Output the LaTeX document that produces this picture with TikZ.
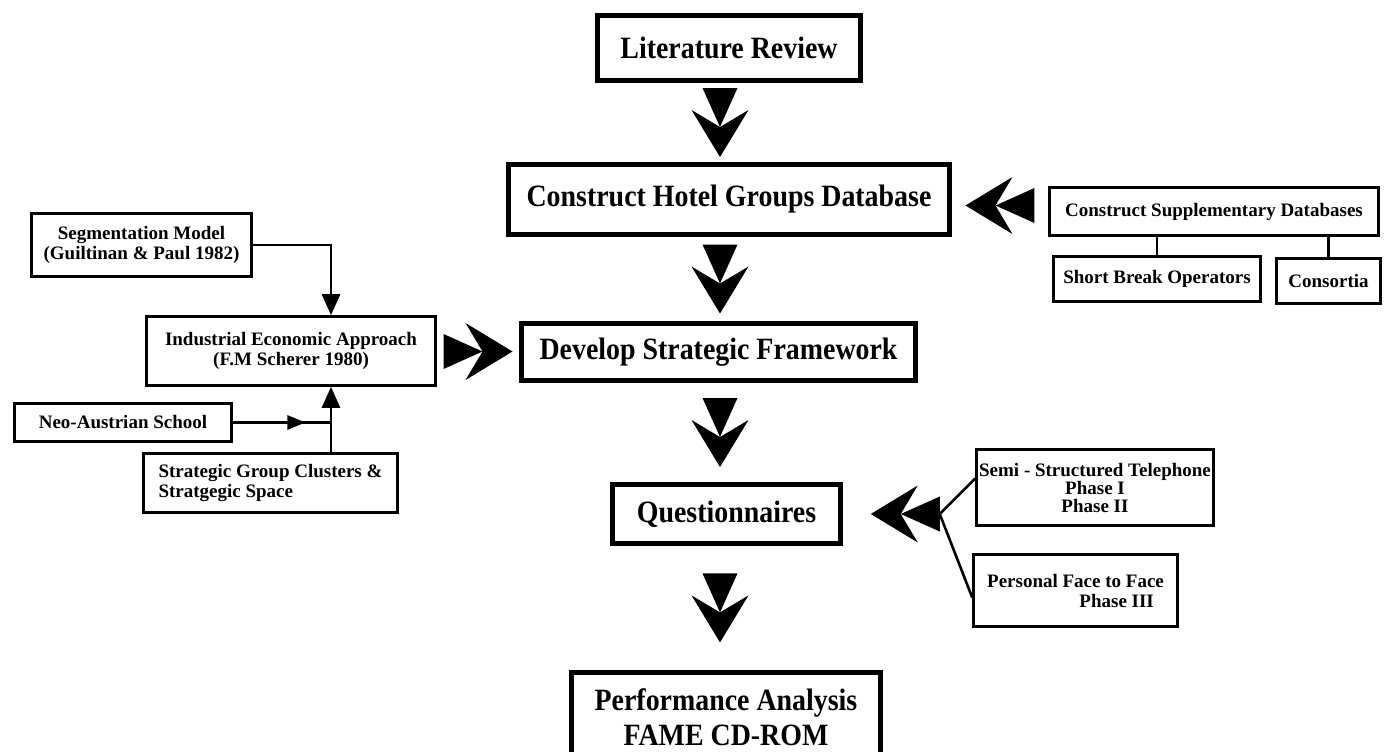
\documentclass[tikz,border=0pt]{standalone}
\usepackage{fontspec}
\setmainfont{Liberation Serif}
\newfontfamily\bigfont[FakeStretch=0.9]{Liberation Serif}
\usetikzlibrary{arrows.meta,calc,decorations.markings}

\newcommand\bigtxt{\bigfont\bfseries\fontsize{31}{35}\selectfont}
\newcommand\smalltxt{\bfseries\fontsize{19}{20}\selectfont}

% heavy double-headed flow arrow, pointing along +x, centred on its origin
\tikzset{
  dblarrow/.pic={
    \fill (34.5,0) -- (-12.5,28.5) -- (4.5,0) -- (-12.5,-28.5) -- cycle;
    \fill (-34.5,17.5) -- (4.5,0) -- (-34.5,-17.5) -- cycle;
  }
}

\begin{document}
\begin{tikzpicture}[x=1pt,y=-1pt,
  bigbox/.style={draw, line width=4.5pt, font=\bigtxt, align=center, inner sep=0pt},
  smallbox/.style={draw, line width=2.6pt, font=\smalltxt, align=center, inner sep=0pt},
  conn/.style={line width=2.6pt},
  headtip/.style={-{Triangle[length=21pt,width=18pt]}},
  midtip/.style={postaction={decorate},
    decoration={markings, mark=at position 0.74 with {\arrow{Triangle[length=18pt,width=14pt]}}}}
]
\useasboundingbox (0,0) rectangle (1392,752);
\clip (0,0) rectangle (1392,752);

% main sequence
\node[bigbox, minimum width=263pt, minimum height=65pt] (lit) at (729,48) {Literature Review};
\node[bigbox, minimum width=441pt, minimum height=70pt] (hotel) at (729,199.5) {Construct Hotel Groups Database};
\node[bigbox, minimum width=394pt, minimum height=57pt] (dev) at (718.5,352) {Develop Strategic Framework};
\node[bigbox, minimum width=228pt, minimum height=59pt] (quest) at (726.5,514) {Questionnaires};
\node[bigbox, anchor=north, minimum width=309pt, minimum height=90pt] (perf) at (726,670) {Performance Analysis\\FAME CD-ROM};

% theory inputs
\node[smallbox, minimum width=220pt, minimum height=63pt] (seg) at (141.5,245) {Segmentation Model\\(Guiltinan \& Paul 1982)};
\node[smallbox, minimum width=289pt, minimum height=69pt] (ind) at (291,351) {Industrial Economic Approach\\(F.M Scherer 1980)};
\node[smallbox, minimum width=217pt, minimum height=38pt] (neo) at (123,422.5) {Neo-Austrian School};
\node[smallbox, align=left, minimum width=254pt, minimum height=59pt] (strat) at (270.5,483) {Strategic Group Clusters \&\\Stratgegic Space};

% data sources
\node[smallbox, minimum width=329pt, minimum height=48pt] (supp) at (1214,211.5) {Construct Supplementary Databases};
\node[smallbox, minimum width=207pt, minimum height=45pt] (short) at (1157,279) {Short Break Operators};
\node[smallbox, minimum width=104pt, minimum height=45pt] (cons) at (1328.5,281) {Consortia};

% survey methods
\node[smallbox, font={\bfseries\fontsize{19}{18}\selectfont}, minimum width=237pt, minimum height=76pt] (semi) at (1095,487.5) {Semi - Structured Telephone\\Phase I\\Phase II};
\node[smallbox, align=right, minimum width=204pt, minimum height=72pt] (pers) at (1075.5,590.5) {Personal Face to Face\\Phase III\hspace*{10pt}};

% thin connectors
\coordinate (stem) at (331,0);
\draw[conn, headtip] (seg.east) -| (stem |- ind.north);
\draw[conn, headtip] (stem |- strat.north) -- (stem |- ind.south);
\draw[conn, midtip] (neo.east) -- (stem |- neo.east);
\draw[conn] (supp.south -| short.north) -- (short.north);
\draw[conn] (supp.south -| cons.north) -- (cons.north);
\coordinate (qjoin) at ([xshift=97pt]quest.east);
\draw[conn] (qjoin) -- ([yshift=9pt]semi.west);
\draw[conn] (qjoin) -- ([yshift=-7pt]pers.west);

% heavy flow arrows
\coordinate (axis) at (720,0);
\path ($(lit.south)!0.5!(hotel.north)$) coordinate (g1);
\path ($(hotel.south)!0.5!(dev.north)$) coordinate (g2);
\path ($(dev.south)!0.5!(quest.north)$) coordinate (g3);
\path ($(quest.south)!0.5!(perf.north)$) coordinate (g4);
\pic[rotate=-90] at (g1 -| axis) {dblarrow};
\pic[rotate=-90] at (g2 -| axis) {dblarrow};
\pic[rotate=-90] at (g3 -| axis) {dblarrow};
\pic[rotate=-90] at (g4 -| axis) {dblarrow};
\pic at ($(ind.east)!0.5!(dev.west)$) {dblarrow};
\pic[rotate=180] at ($(hotel.east)!0.5!(supp.west)$) {dblarrow};
\pic[rotate=180] at ([xshift=-34.5pt]qjoin) {dblarrow};
\end{tikzpicture}
\end{document}
